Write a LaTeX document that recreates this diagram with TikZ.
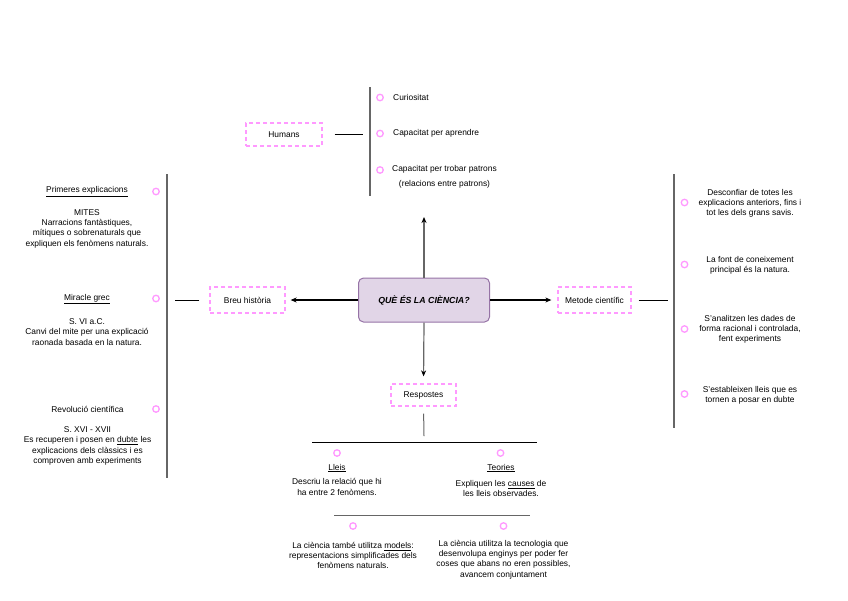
\documentclass[tikz,border=0pt]{standalone}
\usepackage{fontspec}
\setmainfont{Liberation Sans}
\usepackage{xcolor}
\usepackage{tikz}
\usetikzlibrary{arrows.meta}
\usetikzlibrary{shapes.geometric, calc}
\definecolor{rosa}{HTML}{FF99FF}
\definecolor{lila}{HTML}{E1D5E7}
\definecolor{lilafosc}{HTML}{9673A6}
\definecolor{gris}{HTML}{666666}

\begin{document}
\begin{tikzpicture}[x=1pt,y=-1pt,
    caixa/.style={draw=rosa, line width=1.3pt, dash pattern=on 4pt off 3pt,
        font=\fontsize{8.4}{10}\selectfont, inner sep=0pt},
    punt/.style={draw=rosa, circle, line width=1.3pt, inner sep=0pt, minimum size=6.5pt},
    nota/.style={align=center, font=\fontsize{8.4}{10.3}\selectfont, inner sep=0pt},
    barra/.style={draw=gris, line width=1.3pt},
    linia/.style={draw=black, line width=0.8pt},
    fletxa/.style={line width=1.2pt, -{Stealth[length=6pt,width=5pt,black]}}]
        \useasboundingbox (0,0) rectangle (848,600);

        % Centre
        \node[draw=lilafosc, fill=lila, line width=1pt, rounded corners=5pt,
            minimum width=131pt, minimum height=44pt,
            font=\fontsize{8.8}{10}\selectfont\bfseries\itshape] (ques) at (424,300) {QUÈ ÉS LA CIÈNCIA?};
        \node[caixa, minimum width=76pt, minimum height=23pt] (humans) at (284,134.5) {Humans};
        \node[caixa, minimum width=75pt, minimum height=26pt] (breu) at (247.5,300) {Breu història};
        \node[caixa, minimum width=73pt, minimum height=26pt] (metode) at (594.5,300) {Metode científic};
        \node[caixa, minimum width=65pt, minimum height=22pt] (respostes) at (423.5,395) {Respostes};
        \coordinate (dalt) at (424,217);
        \draw[fletxa, gris] (ques.north) -- (dalt);
        \draw[fletxa, gris, shorten >=7pt] (ques.south) -- (respostes.north);
        \draw[fletxa, shorten >=5pt] (ques.west) -- (breu.east);
        \draw[fletxa, shorten >=6pt] (ques.east) -- (metode.west);

        % Humans
        \coordinate (hdalt) at (370,87);
        \coordinate (hbaix) at (370,196);
        \draw[barra] (hdalt) -- (hbaix);
        \draw[linia, shorten <=12pt, shorten >=7pt] (humans.east) -- (humans.east -| hdalt);
        \node[punt] (h1) at (380,97.5) {};
        \node[punt] (h2) at (380,133.5) {};
        \node[punt] (h3) at (380,170) {};
        \node[nota, anchor=west] (ht1) at (393,97.5) {Curiositat};
        \node[nota, anchor=west] (ht2) at (393,133.5) {Capacitat per aprendre};
        \node[nota, anchor=north west] (ht3) at (392,165.5) {Capacitat per trobar patrons\\[4.5pt](relacions entre patrons)};

        % Breu historia
        \coordinate (bdalt) at (167,174);
        \coordinate (bbaix) at (167,478);
        \draw[barra] (bdalt) -- (bbaix);
        \draw[linia, shorten <=10pt, shorten >=8pt] (breu.west) -- (breu.west -| bdalt);
        \node[punt] (b1) at (156,191.5) {};
        \node[punt] (b2) at (156,298.5) {};
        \node[punt] (b3) at (156,409) {};
        \node[nota] (bt1) at (87,191.5) {\underline{Primeres explicacions}};
        \node[nota] (bc1) at (87,228.5) {MITES\\Narracions fantàstiques,\\mítiques o sobrenaturals que\\expliquen els fenòmens naturals.};
        \node[nota] (bt2) at (87,299) {\underline{Miracle grec}};
        \node[nota] (bc2) at (87,332) {S. VI a.C.\\Canvi del mite per una explicació\\raonada basada en la natura.};
        \node[nota] (bt3) at (87.5,409) {Revolució científica};
        \node[nota] (bc3) at (87.5,446) {S. XVI - XVII\\Es recuperen i posen en \underline{dubte} les\\explicacions dels clàssics i es\\comproven amb experiments};

        % Metode cientific
        \coordinate (mdalt) at (674,174);
        \coordinate (mbaix) at (674,428);
        \draw[barra] (mdalt) -- (mbaix);
        \draw[linia, shorten <=7pt, shorten >=6pt] (metode.east) -- (metode.east -| mdalt);
        \node[punt] (m1) at (684.5,202.5) {};
        \node[punt] (m2) at (684.5,264.5) {};
        \node[punt] (m3) at (684.5,329) {};
        \node[punt] (m4) at (684.5,394) {};
        \node[nota] (mt1) at (750,203.5) {Desconfiar de totes les\\explicacions anteriors, fins i\\tot les dels grans savis.};
        \node[nota] (mt2) at (750,265) {La font de coneixement\\principal és la natura.};
        \node[nota] (mt3) at (750,329.5) {S'analitzen les dades de\\forma racional i controlada,\\fent experiments};
        \node[nota] (mt4) at (750,395.5) {S'estableixen lleis que es\\tornen a posar en dubte};

        % Respostes
        \coordinate (rbaix) at (424,436);
        \draw[barra, line width=1pt, shorten <=7pt] (respostes.south) -- (rbaix);
        \coordinate (l1a) at (312,442);
        \coordinate (l1b) at (537,442);
        \coordinate (l2a) at (334,515);
        \coordinate (l2b) at (530,515);
        \draw[linia] (l1a) -- (l1b);
        \draw[barra, line width=1pt] (l2a) -- (l2b);
        \node[punt] (r1) at (337,453) {};
        \node[punt] (r2) at (500.5,453) {};
        \node[punt] (r3) at (353,526) {};
        \node[punt] (r4) at (503.5,526) {};
        \node[nota] (rt1) at (337,468) {\underline{Lleis}};
        \node[nota] (rc1) at (337,487) {Descriu la relació que hi\\ha entre 2 fenòmens.};
        \node[nota] (rt2) at (501,468) {\underline{Teories}};
        \node[nota] (rc2) at (501,488.5) {Expliquen les \underline{causes} de\\les lleis observades.};
        \node[nota] (rc3) at (353,555.5) {La ciència també utilitza \underline{models}:\\representacions simplificades dels\\fenòmens naturals.};
        \node[nota] (rc4) at (503.5,559.5) {La ciència utilitza la tecnologia que\\desenvolupa enginys per poder fer\\coses que abans no eren possibles,\\avancem conjuntament};
    \end{tikzpicture}
\end{document}
